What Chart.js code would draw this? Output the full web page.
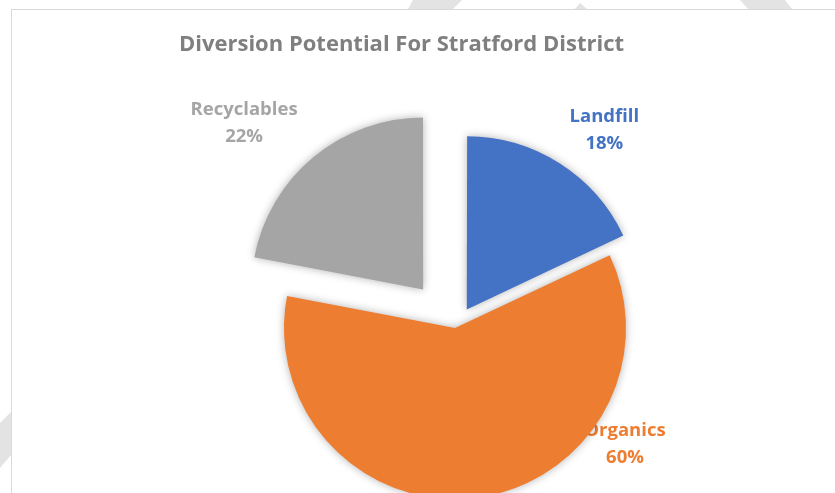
<!DOCTYPE html>
<html>
<head>
<meta charset="utf-8">
<script src="https://cdn.jsdelivr.net/npm/chart.js@4.4.1/dist/chart.umd.min.js"></script>
<style>
  html, body { margin: 0; padding: 0; background: #fff; width: 835px; height: 493px; overflow: hidden; }
  #wm { position: absolute; left: 0; top: 0; }
  #frame { position: absolute; left: 11px; top: 9px; width: 900px; height: 600px; border: 1px solid #d9d9d9; background: #fff; overflow: hidden; }
  #box { position: absolute; left: 0; top: 0; width: 886px; height: 636px; }
  #title { position: absolute; left: 0; top: 28px; width: 803px; text-align: center; font: bold 22px "Open Sans", sans-serif; line-height: 28px; color: #7f7f7f; }
</style>
</head>
<body>
<svg id="wm" width="835" height="493">
  <polygon points="413,0 462,0 453,9 408,9" fill="#e3e3e3"/>
  <polygon points="575,9 580,3 587,9" fill="#e3e3e3"/>
  <polygon points="740,0 785,0 792,9 748,9" fill="#e3e3e3"/>
  <polygon points="0,423 11,412 11,455 0,468" fill="#e3e3e3"/>
</svg>
<div id="frame">
  <div id="box"><canvas id="pie"></canvas></div>
</div>
<div id="title">Diversion Potential For Stratford District</div>
<script>
const categories = ['Landfill', 'Organics', 'Recyclables'];
const shares = [18, 60, 22];
const sliceColors = ['#4472c4', '#ed7d31', '#a5a5a5'];

// slice labels sit outside the pie, drawn under the slices like the original
const sliceLabels = {
  id: 'sliceLabels',
  beforeDatasetsDraw(chart, args, opts) {
    const ctx = chart.ctx;
    const meta = chart.getDatasetMeta(0);
    const ds = chart.data.datasets[0];
    const total = ds.data.reduce((a, b) => a + b, 0);
    ctx.save();
    ctx.font = opts.font;
    ctx.textAlign = 'center';
    ctx.textBaseline = 'middle';
    meta.data.forEach((arc, i) => {
      const mid = (arc.startAngle + arc.endAngle) / 2;
      const shift = (ds.offset[i] || 0) / 4;
      const ax = arc.x + Math.cos(mid) * shift;
      const ay = arc.y + Math.sin(mid) * shift;
      const a = opts.angles[i] * Math.PI / 180 - Math.PI / 2;
      const x = ax + Math.cos(a) * opts.distances[i];
      const y = ay + Math.sin(a) * opts.distances[i];
      ctx.fillStyle = ds.backgroundColor[i];
      ctx.fillText(chart.data.labels[i], x, y - opts.lineHeight / 2);
      ctx.fillText(Math.round(ds.data[i] / total * 100) + '%', x, y + opts.lineHeight / 2);
    });
    ctx.restore();
    // soft shadow behind the slices
    ctx.save();
    ctx.shadowColor = 'rgba(0,0,0,0.3)';
    ctx.shadowBlur = 9;
  },
  afterDatasetsDraw(chart) {
    chart.ctx.restore();
  }
};

new Chart(document.getElementById('pie'), {
  type: 'pie',
  data: {
    labels: categories,
    datasets: [{
      data: shares,
      backgroundColor: sliceColors,
      borderWidth: 0,
      offset: [88, 0, 200],
      hoverOffset: 0
    }]
  },
  options: {
    responsive: true,
    maintainAspectRatio: false,
    animation: false,
    events: [],
    radius: 171,
    layout: { padding: 0 },
    plugins: {
      legend: { display: false },
      tooltip: { enabled: false },
      title: { display: false },
      sliceLabels: {
        font: 'bold 18.5px "Open Sans", sans-serif',
        lineHeight: 27,
        angles: [37.5, 124.4, 312.8],
        distances: [226, 206, 244]
      }
    }
  },
  plugins: [sliceLabels]
});
</script>
</body>
</html>
